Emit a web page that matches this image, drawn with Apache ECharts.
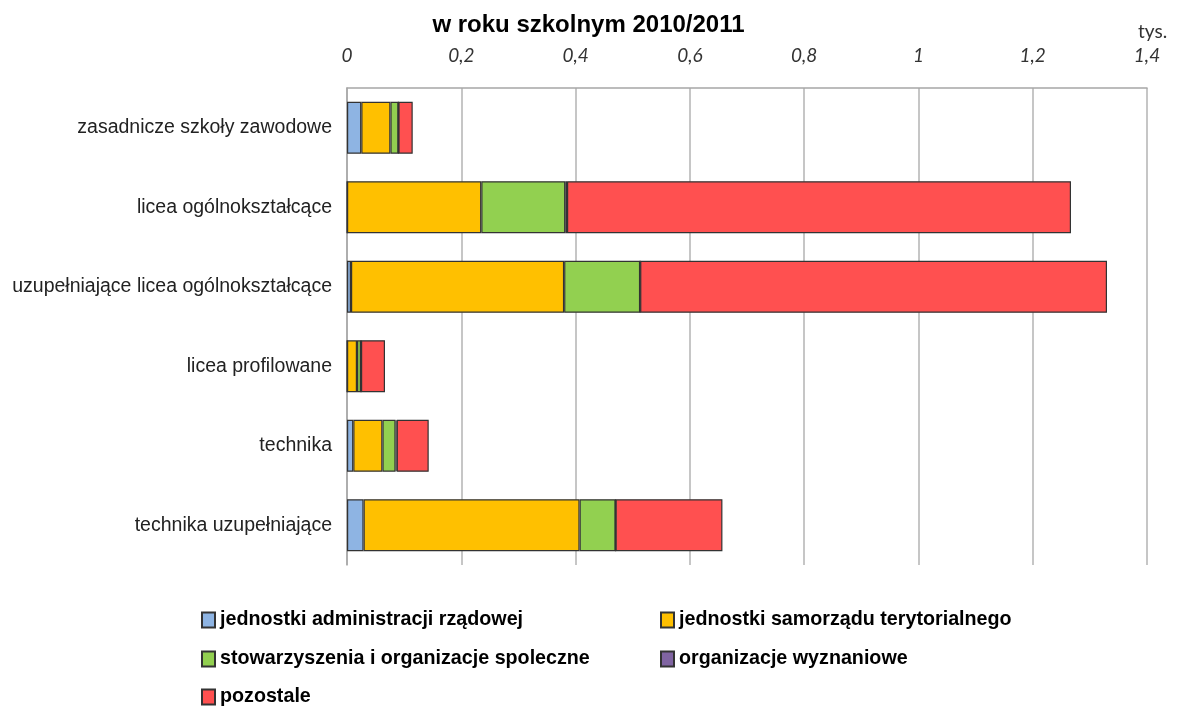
<html lang="pl">
<head>
<meta charset="UTF-8">
<title>Uczniowie wg organów prowadzących</title>
<script src="https://cdn.jsdelivr.net/npm/echarts@6/dist/echarts.min.js"></script>
<style>
  html, body { margin: 0; padding: 0; background: #fff; }
  #chart { width: 1177px; height: 707px; }
</style>
</head>
<body>
<div id="chart"></div>
<script>
// typy szkół (od góry)
var categories = [
  'zasadnicze szkoły zawodowe',
  'licea ogólnokształcące',
  'uzupełniające licea ogólnokształcące',
  'licea profilowane',
  'technika',
  'technika uzupełniające'
];

// wartości w tys.
var administracjaRzadowa = [0.025, 0, 0.007, 0, 0.011, 0.029];
var samorzadTerytorialny = [0.051, 0.235, 0.373, 0.0175, 0.051, 0.378];
var stowarzyszenia       = [0.014, 0.147, 0.133, 0.007, 0.023, 0.063];
var wyznaniowe           = [0, 0.003, 0, 0, 0.002, 0];
var pozostale            = [0.025, 0.882, 0.817, 0.042, 0.056, 0.187];

var seriesNames = [
  'jednostki administracji rządowej',
  'jednostki samorządu terytorialnego',
  'stowarzyszenia i organizacje spoleczne',
  'organizacje wyznaniowe',
  'pozostale'
];
var seriesData = [administracjaRzadowa, samorzadTerytorialny, stowarzyszenia, wyznaniowe, pozostale];
var colors = ['#8EB4E3', '#FFC000', '#92D050', '#8064A2', '#FF5050'];

// miejsce każdej pozycji legendy: [left, środek wiersza]
var legendSpots = [[201, 620], [660, 620], [201, 659], [660, 659], [201, 697]];

var myChart = echarts.init(document.getElementById('chart'));

var legends = seriesNames.map(function (name, i) {
  return {
    left: legendSpots[i][0],
    top: legendSpots[i][1] - 11,
    padding: 0,
    itemWidth: 13,
    itemHeight: 15,
    itemGap: 5,
    icon: 'rect',
    textStyle: {
      fontFamily: 'Liberation Sans',
      fontWeight: 'bold',
      fontSize: 19.7,
      lineHeight: 22,
      color: '#000'
    },
    data: [name]
  };
});

var option = {
  animation: false,
  title: {
    text: 'w roku szkolnym 2010/2011',
    left: 'center',
    top: 8,
    textStyle: {
      fontFamily: 'Liberation Sans',
      fontWeight: 'bold',
      fontSize: 24,
      color: '#000'
    }
  },
  graphic: [{
    type: 'text',
    left: 1138,
    top: 22,
    style: { text: 'tys.', font: '19px Lato', fill: '#333' }
  }],
  grid: { left: 347, right: 30, top: 88, bottom: 142 },
  legend: legends,
  xAxis: {
    type: 'value',
    position: 'top',
    min: 0,
    max: 1.4,
    interval: 0.2,
    axisLine: { show: true, lineStyle: { color: '#a6a6a6', width: 1.5 } },
    axisTick: { show: false },
    splitLine: { show: true, lineStyle: { color: '#b3b3b3', width: 1.5 } },
    axisLabel: {
      margin: 23,
      fontFamily: 'Lato',
      fontStyle: 'italic',
      fontSize: 19,
      color: '#333',
      formatter: function (v) {
        return String(+v.toFixed(1)).replace('.', ',');
      }
    }
  },
  yAxis: {
    type: 'category',
    inverse: true,
    data: categories,
    axisLine: { show: true, lineStyle: { color: '#a6a6a6', width: 1.5 } },
    axisTick: { show: false },
    axisLabel: {
      margin: 15,
      fontFamily: 'Liberation Sans',
      fontSize: 19.5,
      color: '#222'
    }
  },
  series: seriesNames.map(function (name, i) {
    return {
      name: name,
      type: 'bar',
      stack: 'total',
      barWidth: 52,
      data: seriesData[i],
      itemStyle: {
        color: colors[i],
        borderColor: '#333',
        borderWidth: 1.2
      }
    };
  })
};

myChart.setOption(option);
</script>
</body>
</html>
